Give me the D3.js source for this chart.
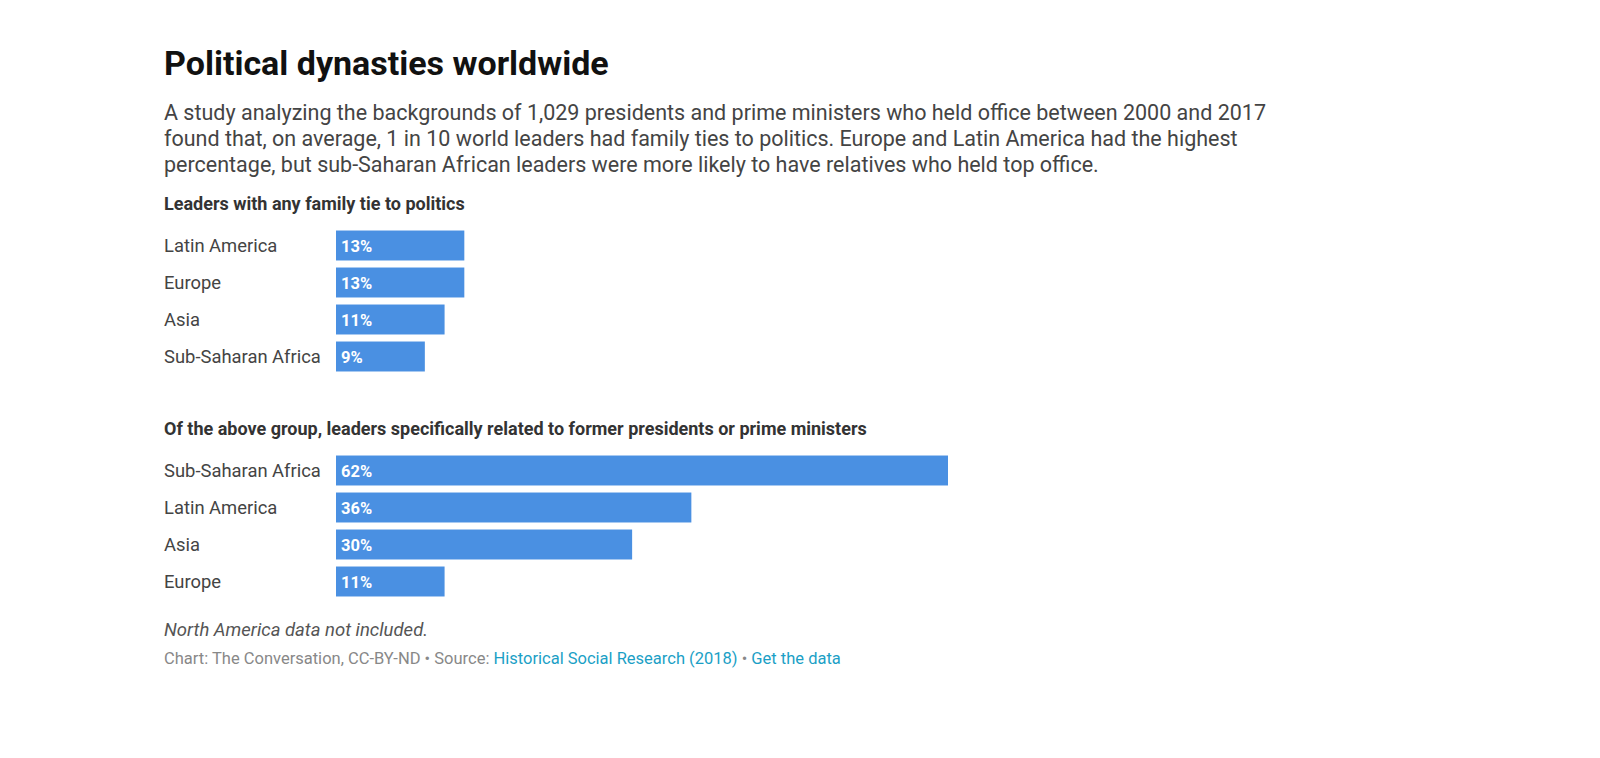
<!DOCTYPE html>
<html><head><meta charset="utf-8">
<script src="https://cdn.jsdelivr.net/npm/d3@7"></script>
<style>body{margin:0;background:#fff;font-family:Roboto,sans-serif}</style>
</head><body><svg id="vis" width="1600" height="758"></svg>
<script>
var regions1 = ["Latin America", "Europe", "Asia", "Sub-Saharan Africa"];
var values1 = [13, 13, 11, 9];
var regions2 = ["Sub-Saharan Africa", "Latin America", "Asia", "Europe"];
var values2 = [62, 36, 30, 11];
var subtitle = [
  "A study analyzing the backgrounds of 1,029 presidents and prime ministers who held office between 2000 and 2017",
  "found that, on average, 1 in 10 world leaders had family ties to politics. Europe and Latin America had the highest",
  "percentage, but sub-Saharan African leaders were more likely to have relatives who held top office."
];

var vis = d3.select("#vis"),
  LEFT = 164, BARX = 336;
var xScale = d3.scaleLinear().domain([0, 62]).range([0, 612]);

vis.append("text").attr("x", LEFT).attr("y", 75).attr("font-size", 34).attr("font-weight", 700)
  .attr("fill", "#111").text("Political dynasties worldwide");
vis.selectAll(".sub").data(subtitle).enter().append("text")
  .attr("x", LEFT).attr("y", function(d, i){ return 120 + i * 26; })
  .attr("font-size", 21.5).attr("fill", "#444").text(function(d){ return d; });

function group(title, top, cats, vals) {
  vis.append("text").attr("x", LEFT).attr("y", top).attr("font-size", 18).attr("font-weight", 700)
    .attr("fill", "#333").text(title);
  var y = d3.scaleBand().domain(cats).range([top + 17, top + 17 + 37 * cats.length]).paddingInner(0.19).paddingOuter(0.095);
  var g = vis.append("g");
  var row = g.selectAll("g").data(cats).enter().append("g");
  row.append("text").attr("x", LEFT).attr("y", function(d){ return y(d) + y.bandwidth() / 2 + 6; })
    .attr("font-size", 18.4).attr("fill", "#444").text(function(d){ return d; });
  row.append("rect").attr("x", BARX).attr("y", function(d){ return y(d); })
    .attr("width", function(d, i){ return xScale(vals[i]); }).attr("height", y.bandwidth()).attr("fill", "#4a90e2");
  row.append("text").attr("x", BARX + 5).attr("y", function(d){ return y(d) + y.bandwidth() / 2 + 6; })
    .attr("font-size", 16.5).attr("font-weight", 700).attr("fill", "#fff").text(function(d, i){ return vals[i] + "%"; });
}
group("Leaders with any family tie to politics", 210, regions1, values1);
group("Of the above group, leaders specifically related to former presidents or prime ministers", 435, regions2, values2);

vis.append("text").attr("x", LEFT).attr("y", 636).attr("font-size", 18.5).attr("font-style", "italic")
  .attr("fill", "#555").text("North America data not included.");
var src = vis.append("text").attr("x", LEFT).attr("y", 664).attr("font-size", 16.5).attr("fill", "#888");
src.append("tspan").text("Chart: The Conversation, CC-BY-ND • Source: ");
src.append("tspan").attr("fill", "#1b9fc6").text("Historical Social Research (2018)");
src.append("tspan").text(" • ");
src.append("tspan").attr("fill", "#1b9fc6").text("Get the data");
</script></body></html>
